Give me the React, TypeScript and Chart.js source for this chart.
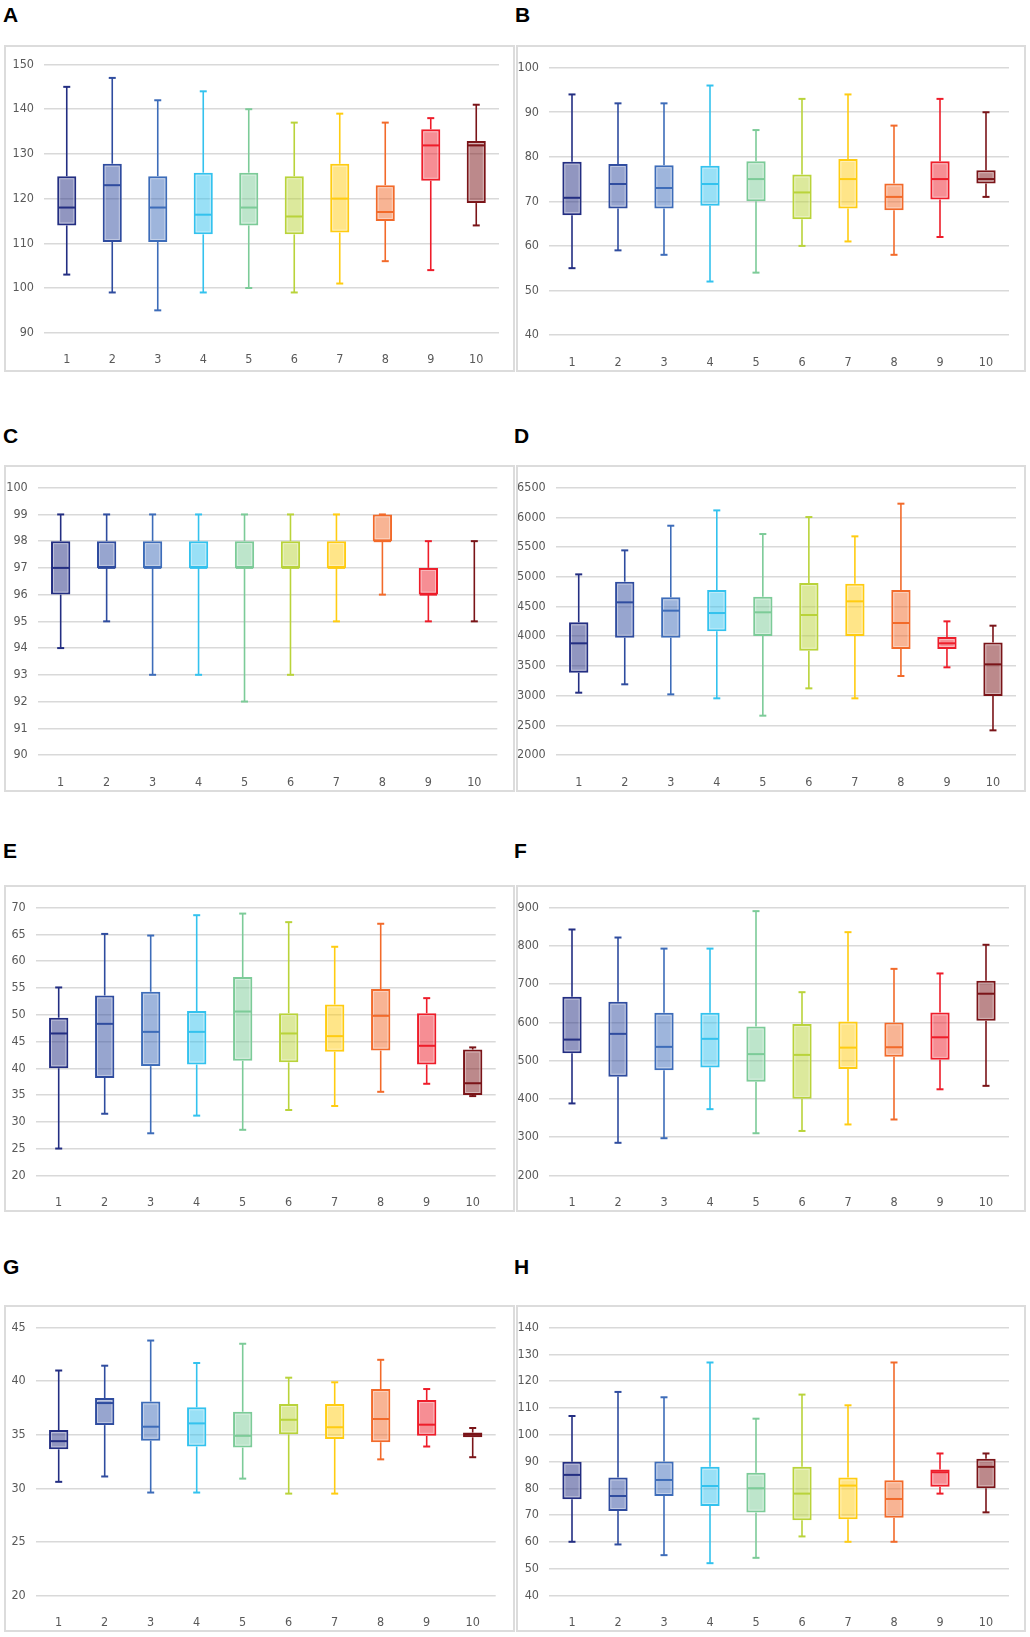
import { useEffect, useRef } from "react";
import { Chart, registerables } from "chart.js";

Chart.register(...registerables);

const categories = ["1", "2", "3", "4", "5", "6", "7", "8", "9", "10"];
const boxColors = [
  "#232E82",
  "#2F4C9F",
  "#3D6CB9",
  "#33C2EE",
  "#7CCB98",
  "#B9D33A",
  "#FFCC11",
  "#F26A2A",
  "#EE1D2A",
  "#7A1418",
];

// A
const aMin = [103, 99, 95, 99, 100, 99, 101, 106, 104, 114];
const aQ1 = [114, 110.3, 110.3, 112, 114, 112, 112.4, 115, 124, 119];
const aMedian = [118, 123, 118, 116.4, 118, 116, 120, 117, 131.9, 131.9];
const aQ3 = [125, 127.8, 125, 125.8, 125.8, 125, 127.8, 123, 135.5, 132.9];
const aMax = [145, 147, 142, 144, 140, 137, 139, 137, 138, 141];
const aTicks = [90, 100, 110, 120, 130, 140, 150];

// B
const bMin = [55, 59, 58, 52, 54, 60, 61, 58, 62, 71];
const bQ1 = [66.9, 68.4, 68.4, 69, 70, 66, 68.4, 68, 70.4, 74];
const bMedian = [70.8, 73.9, 73, 73.9, 75, 72, 75, 71, 75, 75];
const bQ3 = [78.9, 78.4, 78.1, 78, 79, 76, 79.5, 74, 79, 77];
const bMax = [94, 92, 92, 96, 86, 93, 94, 87, 93, 90];
const bTicks = [40, 50, 60, 70, 80, 90, 100];

// C
const cMin = [94, 95, 93, 93, 92, 93, 95, 96, 95, 95];
const cQ1 = [96, 97, 97, 97, 97, 97, 97, 98, 96, 98];
const cMedian = [97, 97, 97, 97, 97, 97, 97, 98, 96, 98];
const cQ3 = [98, 98, 98, 98, 98, 98, 98, 99, 97, 98];
const cMax = [99, 99, 99, 99, 99, 99, 99, 99, 98, 98];
const cTicks = [90, 91, 92, 93, 94, 95, 96, 97, 98, 99, 100];

// D
const dMin = [3049, 3190, 3021, 2954, 2662, 3122, 2954, 3330, 3476, 2415];
const dQ1 = [3386, 3975, 3975, 4082, 4003, 3756, 4003, 3784, 3784, 2993];
const dMedian = [3880, 4570, 4430, 4390, 4402, 4357, 4587, 4222, 3880, 3526];
const dQ3 = [4233, 4918, 4654, 4777, 4665, 4895, 4884, 4777, 3986, 3896];
const dMax = [5041, 5445, 5860, 6118, 5720, 6006, 5681, 6231, 4250, 4177];
const dTicks = [2000, 2500, 3000, 3500, 4000, 4500, 5000, 5500, 6000, 6500];

// E
const eMin = [25, 31.5, 27.85, 31.15, 28.5, 32.2, 32.95, 35.6, 37.1, 34.8];
const eQ1 = [40, 38.2, 40.4, 40.7, 41.4, 41.1, 43.1, 43.3, 40.7, 35];
const eMedian = [46.5, 48.3, 46.8, 46.8, 50.6, 46.5, 46, 49.8, 44.2, 37.2];
const eQ3 = [49.45, 53.6, 54.3, 50.7, 57.05, 50.3, 51.9, 54.8, 50.3, 43.5];
const eMax = [55.1, 65.1, 64.8, 68.6, 68.9, 67.3, 62.7, 67, 53.1, 43.9];
const eTicks = [20, 25, 30, 35, 40, 45, 50, 55, 60, 65, 70];

// F
const fMin = [388, 285, 297, 373, 310, 316, 333, 346, 425, 434];
const fQ1 = [519, 458, 475, 482, 445, 400, 478, 510, 502, 604];
const fMedian = [555, 570, 536, 557, 517, 515, 534, 535, 561, 675];
const fQ3 = [667, 654, 625, 625, 589, 596, 602, 600, 626, 709];
const fMax = [843, 822, 793, 793, 891, 679, 836, 740, 728, 803];
const fTicks = [200, 300, 400, 500, 600, 700, 800, 900];

// G
const gMin = [30.6, 31.1, 29.6, 29.6, 30.9, 29.5, 29.5, 32.7, 33.9, 32.9];
const gQ1 = [33.64, 35.9, 34.45, 33.9, 33.8, 35.04, 34.6, 34.3, 34.9, 34.76];
const gMedian = [34.4, 37.96, 35.75, 36.06, 34.9, 36.4, 35.7, 36.47, 35.94, 35.0];
const gQ3 = [35.44, 38.43, 38.1, 37.56, 37.15, 37.87, 37.87, 39.27, 38.24, 35.2];
const gMax = [41, 41.45, 43.8, 41.7, 43.5, 40.33, 39.9, 42, 39.27, 35.63];
const gTicks = [20, 25, 30, 35, 40, 45];

// H
const hMin = [60, 59, 55, 52, 54, 62, 60, 60, 78, 71];
const hQ1 = [75.9, 71.5, 77.1, 73.4, 70.9, 68, 68.4, 69, 80.6, 80];
const hMedian = [85, 77.1, 83.1, 80.85, 80, 78, 81, 76, 86, 88];
const hQ3 = [89.9, 84, 90, 88, 85.8, 88, 84, 83, 87, 91];
const hMax = [107, 116, 114, 127, 106, 115, 111, 127, 93, 93];
const hTicks = [40, 50, 60, 70, 80, 90, 100, 110, 120, 130, 140];

const BORDER = 2;
const tickFont = { family: '"Liberation Sans Narrow", "DejaVu Sans Condensed", "Open Sans", sans-serif', size: 12.5 };

type Pad = { l: number; r: number; t: number; b: number };
type PanelSpec = {
  letter: string;
  min: number[];
  q1: number[];
  median: number[];
  q3: number[];
  max: number[];
  ticks: number[];
  left: number;
  top: number;
  width: number;
  height: number;
  pad: Pad;
  labelLeft: number;
  labelTop: number;
};

const padA = { l: 40, r: 16, t: 18.3, b: 39.3 };
const padB = { l: 33, r: 17, t: 22.7, b: 37 };
const padC = { l: 33.7, r: 17.7, t: 22.7, b: 37 };
const padD = { l: 39.7, r: 10, t: 22.7, b: 37 };
const padE = { l: 31.7, r: 19.3, t: 22.7, b: 36.7 };
const padF = { l: 33, r: 17, t: 22.7, b: 36.7 };

const panels: PanelSpec[] = [
  { letter: "A", min: aMin, q1: aQ1, median: aMedian, q3: aQ3, max: aMax, ticks: aTicks, left: 4, top: 45, width: 511, height: 327, pad: padA, labelLeft: 3, labelTop: 4 },
  { letter: "B", min: bMin, q1: bQ1, median: bMedian, q3: bQ3, max: bMax, ticks: bTicks, left: 516, top: 45, width: 510, height: 327, pad: padB, labelLeft: 515, labelTop: 4 },
  { letter: "C", min: cMin, q1: cQ1, median: cMedian, q3: cQ3, max: cMax, ticks: cTicks, left: 4, top: 465, width: 511, height: 327, pad: padC, labelLeft: 3, labelTop: 425 },
  { letter: "D", min: dMin, q1: dQ1, median: dMedian, q3: dQ3, max: dMax, ticks: dTicks, left: 516, top: 465, width: 510, height: 327, pad: padD, labelLeft: 514, labelTop: 425 },
  { letter: "E", min: eMin, q1: eQ1, median: eMedian, q3: eQ3, max: eMax, ticks: eTicks, left: 4, top: 885, width: 511, height: 327, pad: padE, labelLeft: 3, labelTop: 840 },
  { letter: "F", min: fMin, q1: fQ1, median: fMedian, q3: fQ3, max: fMax, ticks: fTicks, left: 516, top: 885, width: 510, height: 327, pad: padF, labelLeft: 514, labelTop: 840 },
  { letter: "G", min: gMin, q1: gQ1, median: gMedian, q3: gQ3, max: gMax, ticks: gTicks, left: 4, top: 1305, width: 511, height: 327, pad: padE, labelLeft: 3, labelTop: 1256 },
  { letter: "H", min: hMin, q1: hQ1, median: hMedian, q3: hQ3, max: hMax, ticks: hTicks, left: 516, top: 1305, width: 510, height: 327, pad: padF, labelLeft: 514, labelTop: 1256 },
];

function fade(hex: string, a: number) {
  const n = parseInt(hex.slice(1), 16);
  return `rgba(${(n >> 16) & 255}, ${(n >> 8) & 255}, ${n & 255}, ${a})`;
}

function BoxPanel({ p }: { p: PanelSpec }) {
  const chartRef = useRef<HTMLCanvasElement | null>(null);
  const w = p.width - 2 * BORDER;
  const h = p.height - 2 * BORDER;

  useEffect(() => {
    if (!chartRef.current) return;
    const ctx = chartRef.current.getContext("2d");
    if (!ctx) return;

    const line = (c: CanvasRenderingContext2D, x1: number, y1: number, x2: number, y2: number) => {
      c.beginPath();
      c.moveTo(x1, y1);
      c.lineTo(x2, y2);
      c.stroke();
    };

    // whiskers, caps and medians around the floating bars
    const whiskers = {
      id: "whiskers",
      beforeDatasetsDraw(chart: any) {
        const c = chart.ctx as CanvasRenderingContext2D;
        const y = chart.scales.y;
        const meta = chart.getDatasetMeta(0);
        c.save();
        meta.data.forEach((bar: any, i: number) => {
          const { x } = bar.getProps(["x"], true);
          const yTop = y.getPixelForValue(p.q3[i]);
          const yBot = y.getPixelForValue(p.q1[i]);
          const yHi = y.getPixelForValue(p.max[i]);
          const yLo = y.getPixelForValue(p.min[i]);
          c.strokeStyle = boxColors[i];
          c.lineWidth = 1.6;
          line(c, x, yTop, x, yHi);
          line(c, x, yBot, x, yLo);
          c.lineWidth = 2;
          line(c, x - 3.5, yHi, x + 3.5, yHi);
          line(c, x - 3.5, yLo, x + 3.5, yLo);
        });
        c.restore();
      },
      afterDatasetsDraw(chart: any) {
        const c = chart.ctx as CanvasRenderingContext2D;
        const y = chart.scales.y;
        const meta = chart.getDatasetMeta(0);
        c.save();
        meta.data.forEach((bar: any, i: number) => {
          if (p.q3[i] <= p.q1[i]) return;
          const { x, width } = bar.getProps(["x", "width"], true);
          const yTop = y.getPixelForValue(p.q3[i]);
          const yBot = y.getPixelForValue(p.q1[i]);
          const yMed = y.getPixelForValue(p.median[i]);
          if (yBot - yTop > 7) {
            c.strokeStyle = "rgba(255, 255, 255, 0.4)";
            c.lineWidth = 1;
            c.strokeRect(x - width / 2 + 2.5, yTop + 2.5, width - 5, yBot - yTop - 5);
          }
          c.strokeStyle = boxColors[i];
          c.lineWidth = 2;
          line(c, x - width / 2 + 1, yMed, x + width / 2 - 1, yMed);
        });
        c.restore();
      },
    };

    const chart = new Chart(ctx, {
      type: "bar",
      data: {
        labels: categories,
        datasets: [
          {
            data: p.q1.map((v, i) => [v, p.q3[i]]) as any,
            backgroundColor: boxColors.map((c) => fade(c, 0.5)),
            borderColor: boxColors,
            borderWidth: 2,
            borderSkipped: false,
            barPercentage: 0.42,
            categoryPercentage: 1,
          },
        ],
      },
      options: {
        responsive: false,
        maintainAspectRatio: false,
        animation: false,
        layout: {
          padding: { top: p.pad.t - BORDER, right: p.pad.r - BORDER, left: 0, bottom: 0 },
        },
        plugins: {
          legend: { display: false },
          tooltip: { enabled: false },
        },
        scales: {
          x: {
            grid: { display: false },
            border: { display: false },
            ticks: { color: "#595959", font: tickFont, padding: 12, maxRotation: 0 },
            afterFit: (s: any) => {
              s.height = p.pad.b - BORDER;
            },
          },
          y: {
            min: p.ticks[0],
            max: p.ticks[p.ticks.length - 1],
            afterBuildTicks: (s: any) => {
              s.ticks = p.ticks.map((v) => ({ value: v }));
            },
            grid: { color: "#d9d9d9", lineWidth: 1.5, drawTicks: false },
            border: { display: false },
            ticks: { color: "#595959", font: tickFont, padding: 10, callback: (v: any) => String(v) },
            afterFit: (s: any) => {
              s.width = p.pad.l - BORDER;
            },
          },
        },
      },
      plugins: [whiskers],
    });

    return () => {
      chart.destroy();
    };
  }, [p]);

  return (
    <>
      <div
        style={{
          position: "absolute",
          left: p.labelLeft,
          top: p.labelTop,
          font: 'bold 21px "Liberation Sans", Arial, sans-serif',
          lineHeight: 1,
          color: "#000",
        }}
      >
        {p.letter}
      </div>
      <div
        style={{
          position: "absolute",
          left: p.left,
          top: p.top,
          width: w,
          height: h,
          border: `${BORDER}px solid #dcdcdc`,
          background: "#fff",
        }}
      >
        <canvas ref={chartRef} width={w} height={h} style={{ display: "block", width: w, height: h }}></canvas>
      </div>
    </>
  );
}

export default function App() {
  return (
    <div style={{ position: "absolute", left: 0, top: 0, width: 1030, height: 1637, background: "#fff" }}>
      {panels.map((p) => (
        <BoxPanel key={p.letter} p={p} />
      ))}
    </div>
  );
}
